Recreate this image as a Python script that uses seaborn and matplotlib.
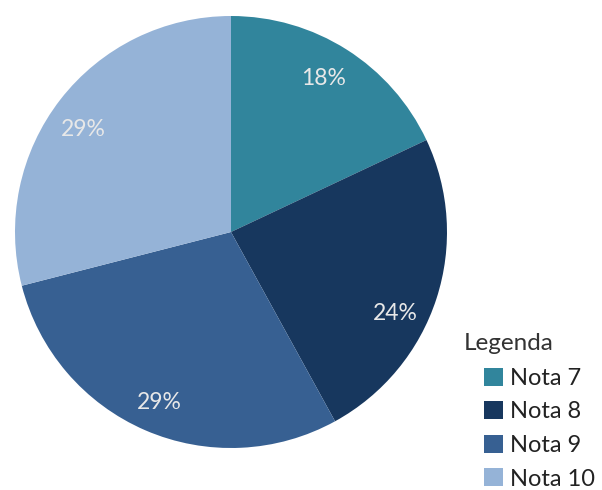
import matplotlib
matplotlib.use("Agg")
import matplotlib.pyplot as plt
import seaborn as sns

categories = ["Nota 7", "Nota 8", "Nota 9", "Nota 10"]
values = [18, 24, 29, 29]
colors = ["#31859C", "#17375E", "#376092", "#95B3D7"]

sns.set_theme(style="white")
plt.rcParams['font.family'] = ['Lato', 'DejaVu Sans']

fig = plt.figure(figsize=(6.02, 4.90), dpi=100)
ax = fig.add_axes([15/602, 42/490, 432/602, 432/490])
wedges, texts, autotexts = ax.pie(
    values, colors=colors, startangle=90, counterclock=False,
    autopct=lambda p: f"{p:.0f}%", pctdistance=0.84,
    textprops=dict(color="#E8E8E8", fontsize=16.5),
    wedgeprops=dict(linewidth=0),
)
ax.set_aspect("equal")
ax.set_xlim(-1, 1)
ax.set_ylim(-1, 1)
# small nudges of label placement
nudges = [(-0.02, 0.0), (-0.04, -0.12), (0.0, -0.02), (-0.02, -0.04)]
for t, (dx, dy) in zip(autotexts, nudges):
    x, y = t.get_position()
    t.set_position((x + dx, y + dy))

fig.text(464/602, 1 - 343/490, "Legenda", fontsize=17.5, color="#333333",
         ha="left", va="center")
leg = fig.legend(wedges, categories, loc="upper left",
                 bbox_to_anchor=(479/602, 1 - 363/490), frameon=False,
                 fontsize=17, handlelength=0.8, handleheight=0.8,
                 handletextpad=0.3, labelspacing=0.52, borderaxespad=0,
                 borderpad=0.2)
for t in leg.get_texts():
    t.set_color("#222222")

fig.savefig("out.png", dpi=100)
